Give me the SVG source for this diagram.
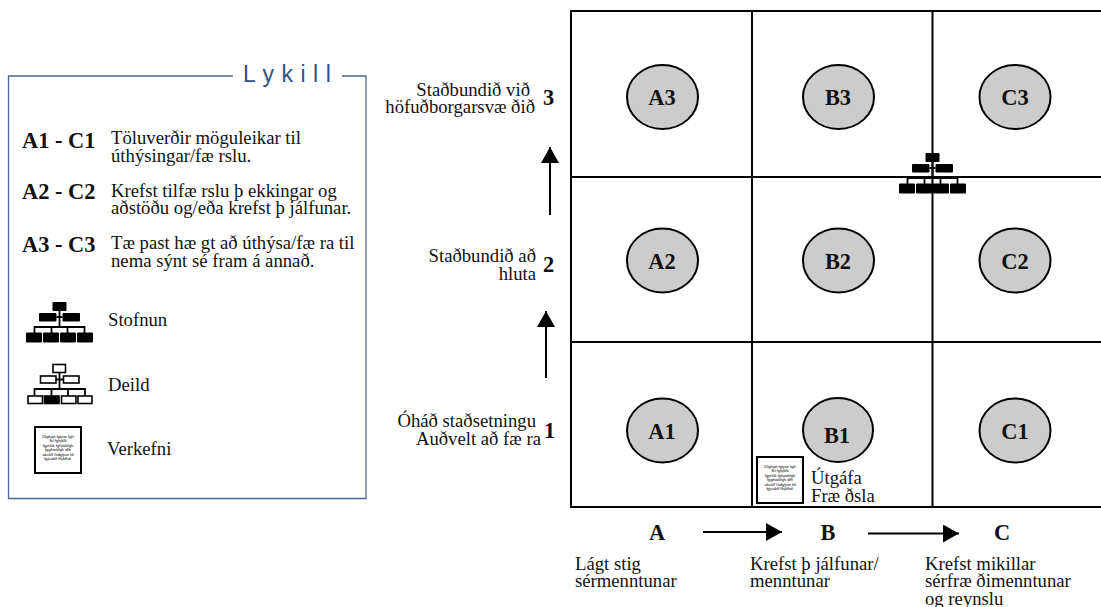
<svg xmlns="http://www.w3.org/2000/svg" xmlns:xlink="http://www.w3.org/1999/xlink" width="1101" height="607" viewBox="0 0 1101 607">
<style>
text{font-family:"Liberation Serif","Times New Roman",serif;fill:#111}
.t{font-size:18.700px}
.b{font-size:22.400px;font-weight:bold}
.c{font-size:22.400px;font-weight:bold;text-anchor:middle}
.r{text-anchor:end}
.n{fill:#ccc;stroke:#000;stroke-width:2}
.ln{fill:none;stroke:#000;stroke-width:2}
.tiny{font-family:"Liberation Sans",Arial,sans-serif;font-size:4.200px;text-anchor:middle;fill:#000}
.doc{fill:#fff;stroke:#000;stroke-width:2}
.o{fill:#fff;stroke:#000;stroke-width:1.600}
</style>
<defs>
<marker id="ah" markerUnits="userSpaceOnUse" markerWidth="17" markerHeight="19" refX="16" refY="9" orient="auto"><path d="M0 0L16 9L0 18Z" fill="#000"/></marker>
<g id="org">
<path d="M0 2V18M-3 8H3M-25 24V18H25V24M-8 18V24M8 18V24" fill="none" stroke="#000" stroke-width="1.800"/>
<rect x="-7" y="-7" width="14" height="9" rx="1"/>
<rect x="-20.500" y="4" width="17.500" height="8.500" rx="1"/>
<rect x="3" y="4" width="17.500" height="8.500" rx="1"/>
<rect x="-33.500" y="23.500" width="16" height="10" rx="1"/>
<rect x="-16.500" y="23.500" width="16" height="10" rx="1"/>
<rect x="0.500" y="23.500" width="16" height="10" rx="1"/>
<rect x="17.500" y="23.500" width="16" height="10" rx="1"/>
</g>
<g id="doc">
<rect x="0" y="0" width="46" height="46" class="doc"/>
<text class="tiny" x="23" y="11">Dlghjøt fgtjue fgh</text>
<text class="tiny" x="23" y="15">fkl fghjklk</text>
<text class="tiny" x="23" y="20">fgjeklk fghjwkfgh</text>
<text class="tiny" x="23" y="24">fgghwkfgh dfh</text>
<text class="tiny" x="23" y="29">aksklf fsdgtjue fd</text>
<text class="tiny" x="23" y="33">fgjsaklf fhjkfhd.</text>
</g>
</defs>

<g id="legend">
<path d="M233 76H8.500V498.500H366V76H342" fill="none" stroke="#4a6496" stroke-width="1.300"/>
<text x="243" y="82" style="font-family:'Liberation Sans',Arial,sans-serif;font-size:23px;fill:#2f4f86;letter-spacing:7.500px">Lykill</text>
<text class="b" x="22" y="148">A1 - C1</text>
<text class="t" x="111" y="144">Töluverðir möguleikar til</text>
<text class="t" x="111" y="162">úthýsingar/fæ rslu.</text>
<text class="b" x="22" y="199">A2 - C2</text>
<text class="t" x="111" y="197">Krefst tilfæ rslu þ ekkingar og</text>
<text class="t" x="111" y="214">aðstöðu og/eða krefst þ jálfunar.</text>
<text class="b" x="22" y="252">A3 - C3</text>
<text class="t" x="111" y="249">Tæ past hæ gt að úthýsa/fæ ra til</text>
<text class="t" x="111" y="267">nema sýnt sé fram á annað.</text>
</g>
<g id="key-stofnun">
<use xlink:href="#org" href="#org" x="59.500" y="309"/>
<text class="t" x="108" y="326">Stofnun</text>
</g>
<g id="key-deild">
<path d="M59.500 372V389M56 379.500H63M34.500 396V389H85V396M51.500 389V396M68 389V396" fill="none" stroke="#000" stroke-width="1.800"/>
<rect x="53" y="364.500" width="12.500" height="8" class="o"/>
<rect x="40.500" y="376" width="15.500" height="7" class="o"/>
<rect x="63.500" y="376" width="15.500" height="7" class="o"/>
<rect x="28" y="396" width="14.500" height="7.500" class="o"/>
<rect x="44.500" y="396" width="14.500" height="7.500" class="o" style="fill:#000"/>
<rect x="61.500" y="396" width="14.500" height="7.500" class="o"/>
<rect x="78" y="396" width="14" height="7.500" class="o"/>
<text class="t" x="108" y="391">Deild</text>
</g>
<g id="key-verkefni">
<use xlink:href="#doc" href="#doc" x="35" y="427"/>
<text class="t" x="107" y="455">Verkefni</text>
</g>

<g id="grid">
<path d="M1101 11H571V507H1101M752 11V507M932.500 11V507M571 177H1101M571 342H1101" class="ln"/>
</g>

<g id="A3"><ellipse class="n" cx="662.500" cy="97" rx="35.500" ry="32"/><text class="c" x="662" y="105">A3</text></g>
<g id="B3"><ellipse class="n" cx="838.500" cy="97" rx="35.500" ry="32"/><text class="c" x="838" y="105">B3</text></g>
<g id="C3"><ellipse class="n" cx="1015" cy="97" rx="35.500" ry="32"/><text class="c" x="1015" y="105">C3</text></g>
<g id="A2"><ellipse class="n" cx="662.500" cy="260.500" rx="35.500" ry="32"/><text class="c" x="662" y="269">A2</text></g>
<g id="B2"><ellipse class="n" cx="838.500" cy="260.500" rx="35.500" ry="32"/><text class="c" x="838" y="269">B2</text></g>
<g id="C2"><ellipse class="n" cx="1015" cy="260.500" rx="35.500" ry="32"/><text class="c" x="1015" y="269">C2</text></g>
<g id="A1"><ellipse class="n" cx="662.500" cy="430.500" rx="35.500" ry="32"/><text class="c" x="662" y="439">A1</text></g>
<g id="B1"><ellipse class="n" cx="838" cy="430" rx="35" ry="32"/><text class="c" x="837" y="443">B1</text></g>
<g id="C1"><ellipse class="n" cx="1015" cy="430.500" rx="35.500" ry="32"/><text class="c" x="1015" y="439">C1</text></g>

<g id="stofnun-marker"><use xlink:href="#org" href="#org" x="932.500" y="160"/></g>
<g id="utgafa">
<use xlink:href="#doc" href="#doc" x="757" y="457"/>
<text class="t" x="811" y="484">Útgáfa</text>
<text class="t" x="811" y="502">Fræ ðsla</text>
</g>

<g id="connectors">
<path d="M550 215V147" class="ln" marker-end="url(#ah)"/>
<path d="M546 378V311" class="ln" marker-end="url(#ah)"/>
<path d="M703 532H782" class="ln" marker-end="url(#ah)"/>
<path d="M868 533.500H959" class="ln" marker-end="url(#ah)"/>
</g>

<g id="labels">
<text class="t r" x="530" y="96">Staðbundið við</text>
<text class="t r" x="535" y="113">höfuðborgarsvæ ðið</text>
<text class="b" x="543" y="105">3</text>
<text class="t r" x="536" y="262">Staðbundið að</text>
<text class="t r" x="536" y="280">hluta</text>
<text class="b" x="543" y="272">2</text>
<text class="t r" x="536" y="427">Óháð staðsetningu</text>
<text class="t r" x="541" y="445">Auðvelt að fæ ra</text>
<text class="b" x="544" y="438">1</text>
<text class="c" x="657" y="540">A</text>
<text class="c" x="828" y="540">B</text>
<text class="c" x="1002" y="540">C</text>
<text class="t" x="575" y="570">Lágt stig</text>
<text class="t" x="575" y="587">sérmenntunar</text>
<text class="t" x="750" y="570">Krefst þ jálfunar/</text>
<text class="t" x="750" y="587">menntunar</text>
<text class="t" x="925" y="570">Krefst mikillar</text>
<text class="t" x="925" y="587">sérfræ ðimenntunar</text>
<text class="t" x="925" y="605">og reynslu</text>
</g>
</svg>
